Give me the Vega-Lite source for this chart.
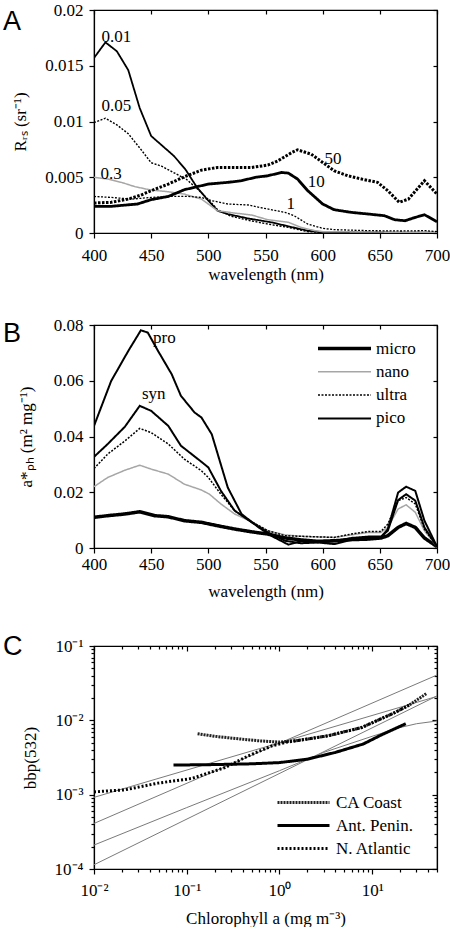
{
  "$schema": "https://vega.github.io/schema/vega-lite/v6.json",
  "padding": {"left": 2, "top": 0, "right": 0, "bottom": 0},
  "background": "white",
  "spacing": 32,
  "resolve": {
    "scale": {"color": "independent", "strokeDash": "independent", "strokeWidth": "independent"},
    "legend": {"color": "independent", "strokeDash": "independent", "strokeWidth": "independent"}
  },
  "datasets": {
    "rrs": [
      {"chl":"0.01","wl":400,"v":0.0157},{"chl":"0.01","wl":410,"v":0.0171},{"chl":"0.01","wl":420,"v":0.0163},{"chl":"0.01","wl":430,"v":0.0146},{"chl":"0.01","wl":440,"v":0.0112},{"chl":"0.01","wl":450,"v":0.0087},{"chl":"0.01","wl":460,"v":0.0078},{"chl":"0.01","wl":470,"v":0.0069},{"chl":"0.01","wl":480,"v":0.0057},{"chl":"0.01","wl":490,"v":0.0041},{"chl":"0.01","wl":500,"v":0.0029},{"chl":"0.01","wl":508,"v":0.0020},{"chl":"0.01","wl":517,"v":0.0017},{"chl":"0.01","wl":535,"v":0.0013},{"chl":"0.01","wl":555,"v":0.00096},{"chl":"0.01","wl":570,"v":0.0006},{"chl":"0.01","wl":587,"v":0.0002},{"chl":"0.01","wl":600,"v":0.00006},{"chl":"0.01","wl":650,"v":0.00003},{"chl":"0.01","wl":700,"v":0.00002},
      {"chl":"0.05","wl":400,"v":0.0099},{"chl":"0.05","wl":410,"v":0.0103},{"chl":"0.05","wl":420,"v":0.0097},{"chl":"0.05","wl":430,"v":0.0089},{"chl":"0.05","wl":441,"v":0.0075},{"chl":"0.05","wl":450,"v":0.0063},{"chl":"0.05","wl":459,"v":0.0060},{"chl":"0.05","wl":470,"v":0.0054},{"chl":"0.05","wl":481,"v":0.0048},{"chl":"0.05","wl":491,"v":0.0039},{"chl":"0.05","wl":500,"v":0.0030},{"chl":"0.05","wl":508,"v":0.0021},{"chl":"0.05","wl":520,"v":0.0015},{"chl":"0.05","wl":537,"v":0.0011},{"chl":"0.05","wl":552,"v":0.0008},{"chl":"0.05","wl":570,"v":0.0005},{"chl":"0.05","wl":587,"v":0.00012},{"chl":"0.05","wl":600,"v":0.00006},{"chl":"0.05","wl":650,"v":0.00004},{"chl":"0.05","wl":700,"v":0.00003},
      {"chl":"0.3","wl":400,"v":0.0050},{"chl":"0.3","wl":412,"v":0.00484},{"chl":"0.3","wl":424,"v":0.00454},{"chl":"0.3","wl":436,"v":0.00415},{"chl":"0.3","wl":450,"v":0.00385},{"chl":"0.3","wl":465,"v":0.0037},{"chl":"0.3","wl":479,"v":0.00349},{"chl":"0.3","wl":494,"v":0.00304},{"chl":"0.3","wl":508,"v":0.0020},{"chl":"0.3","wl":523,"v":0.00179},{"chl":"0.3","wl":538,"v":0.00161},{"chl":"0.3","wl":552,"v":0.00119},{"chl":"0.3","wl":570,"v":0.00096},{"chl":"0.3","wl":581,"v":0.00051},{"chl":"0.3","wl":593,"v":0.00021},{"chl":"0.3","wl":600,"v":0.00012},{"chl":"0.3","wl":650,"v":0.00008},{"chl":"0.3","wl":700,"v":0.00006},
      {"chl":"1","wl":400,"v":0.00328},{"chl":"1","wl":415,"v":0.00319},{"chl":"1","wl":433,"v":0.00304},{"chl":"1","wl":450,"v":0.00319},{"chl":"1","wl":465,"v":0.00328},{"chl":"1","wl":482,"v":0.00328},{"chl":"1","wl":494,"v":0.00319},{"chl":"1","wl":503,"v":0.0029},{"chl":"1","wl":517,"v":0.0026},{"chl":"1","wl":535,"v":0.00251},{"chl":"1","wl":549,"v":0.00221},{"chl":"1","wl":567,"v":0.00185},{"chl":"1","wl":575,"v":0.00155},{"chl":"1","wl":587,"v":0.0008},{"chl":"1","wl":600,"v":0.00042},{"chl":"1","wl":610,"v":0.0003},{"chl":"1","wl":640,"v":0.00021},{"chl":"1","wl":669,"v":0.00018},{"chl":"1","wl":690,"v":0.00021},{"chl":"1","wl":700,"v":0.00012},
      {"chl":"10","wl":400,"v":0.00239},{"chl":"10","wl":415,"v":0.00239},{"chl":"10","wl":438,"v":0.0026},{"chl":"10","wl":450,"v":0.00299},{"chl":"10","wl":465,"v":0.00328},{"chl":"10","wl":479,"v":0.00388},{"chl":"10","wl":500,"v":0.00439},{"chl":"10","wl":517,"v":0.00454},{"chl":"10","wl":529,"v":0.00469},{"chl":"10","wl":541,"v":0.00499},{"chl":"10","wl":552,"v":0.00513},{"chl":"10","wl":564,"v":0.00543},{"chl":"10","wl":570,"v":0.00537},{"chl":"10","wl":578,"v":0.00484},{"chl":"10","wl":587,"v":0.00379},{"chl":"10","wl":600,"v":0.0026},{"chl":"10","wl":610,"v":0.00209},{"chl":"10","wl":625,"v":0.00185},{"chl":"10","wl":640,"v":0.0017},{"chl":"10","wl":654,"v":0.00155},{"chl":"10","wl":663,"v":0.00119},{"chl":"10","wl":672,"v":0.0011},{"chl":"10","wl":681,"v":0.0014},{"chl":"10","wl":689,"v":0.00164},{"chl":"10","wl":700,"v":0.00101},
      {"chl":"50","wl":400,"v":0.00269},{"chl":"50","wl":415,"v":0.00275},{"chl":"50","wl":430,"v":0.00304},{"chl":"50","wl":441,"v":0.0034},{"chl":"50","wl":450,"v":0.00379},{"chl":"50","wl":465,"v":0.00439},{"chl":"50","wl":479,"v":0.00504},{"chl":"50","wl":494,"v":0.00564},{"chl":"50","wl":508,"v":0.00588},{"chl":"50","wl":523,"v":0.00588},{"chl":"50","wl":538,"v":0.00588},{"chl":"50","wl":552,"v":0.00609},{"chl":"50","wl":561,"v":0.00648},{"chl":"50","wl":573,"v":0.00722},{"chl":"50","wl":578,"v":0.00746},{"chl":"50","wl":590,"v":0.00707},{"chl":"50","wl":600,"v":0.00633},{"chl":"50","wl":610,"v":0.00558},{"chl":"50","wl":622,"v":0.00513},{"chl":"50","wl":634,"v":0.00484},{"chl":"50","wl":648,"v":0.00454},{"chl":"50","wl":657,"v":0.00379},{"chl":"50","wl":667,"v":0.00275},{"chl":"50","wl":675,"v":0.00304},{"chl":"50","wl":689,"v":0.00469},{"chl":"50","wl":700,"v":0.00349}
    ],
    "rrsLabels": [
      {"label":"0.01","wl":419.5,"v":0.0176},{"label":"0.05","wl":419.5,"v":0.0114},{"label":"0.3","wl":415,"v":0.00526},{"label":"1","wl":572,"v":0.0026},{"label":"10","wl":594.4,"v":0.00454},{"label":"50","wl":609,"v":0.00662}
    ],
    "aph": [
      {"cls":"micro","id":"micro","wl":400,"v":0.011},{"cls":"micro","id":"micro","wl":412,"v":0.0116},{"cls":"micro","id":"micro","wl":427,"v":0.0122},{"cls":"micro","id":"micro","wl":440,"v":0.0130},{"cls":"micro","id":"micro","wl":453,"v":0.0116},{"cls":"micro","id":"micro","wl":465,"v":0.0112},{"cls":"micro","id":"micro","wl":479,"v":0.0098},{"cls":"micro","id":"micro","wl":494,"v":0.0092},{"cls":"micro","id":"micro","wl":508,"v":0.0080},{"cls":"micro","id":"micro","wl":523,"v":0.0068},{"cls":"micro","id":"micro","wl":538,"v":0.0058},{"cls":"micro","id":"micro","wl":552,"v":0.0050},{"cls":"micro","id":"micro","wl":567,"v":0.0036},{"cls":"micro","id":"micro","wl":581,"v":0.0029},{"cls":"micro","id":"micro","wl":596,"v":0.0024},{"cls":"micro","id":"micro","wl":610,"v":0.0026},{"cls":"micro","id":"micro","wl":625,"v":0.0030},{"cls":"micro","id":"micro","wl":640,"v":0.0032},{"cls":"micro","id":"micro","wl":651,"v":0.0036},{"cls":"micro","id":"micro","wl":657,"v":0.0044},{"cls":"micro","id":"micro","wl":666,"v":0.0074},{"cls":"micro","id":"micro","wl":673,"v":0.0088},{"cls":"micro","id":"micro","wl":681,"v":0.0074},{"cls":"micro","id":"micro","wl":689,"v":0.0036},{"cls":"micro","id":"micro","wl":700,"v":0.0005},
      {"cls":"nano","id":"nano","wl":400,"v":0.022},{"cls":"nano","id":"nano","wl":412,"v":0.0253},{"cls":"nano","id":"nano","wl":427,"v":0.0279},{"cls":"nano","id":"nano","wl":440,"v":0.0297},{"cls":"nano","id":"nano","wl":450,"v":0.0283},{"cls":"nano","id":"nano","wl":465,"v":0.0265},{"cls":"nano","id":"nano","wl":479,"v":0.0229},{"cls":"nano","id":"nano","wl":494,"v":0.0208},{"cls":"nano","id":"nano","wl":501,"v":0.0193},{"cls":"nano","id":"nano","wl":511,"v":0.0158},{"cls":"nano","id":"nano","wl":523,"v":0.0122},{"cls":"nano","id":"nano","wl":538,"v":0.0094},{"cls":"nano","id":"nano","wl":552,"v":0.0062},{"cls":"nano","id":"nano","wl":567,"v":0.0047},{"cls":"nano","id":"nano","wl":581,"v":0.0042},{"cls":"nano","id":"nano","wl":610,"v":0.0038},{"cls":"nano","id":"nano","wl":625,"v":0.0047},{"cls":"nano","id":"nano","wl":640,"v":0.0056},{"cls":"nano","id":"nano","wl":651,"v":0.0056},{"cls":"nano","id":"nano","wl":657,"v":0.0074},{"cls":"nano","id":"nano","wl":666,"v":0.0140},{"cls":"nano","id":"nano","wl":673,"v":0.0155},{"cls":"nano","id":"nano","wl":681,"v":0.0128},{"cls":"nano","id":"nano","wl":689,"v":0.0062},{"cls":"nano","id":"nano","wl":700,"v":0.0005},
      {"cls":"ultra","id":"ultra","wl":400,"v":0.0285},{"cls":"ultra","id":"ultra","wl":412,"v":0.0337},{"cls":"ultra","id":"ultra","wl":427,"v":0.0384},{"cls":"ultra","id":"ultra","wl":440,"v":0.0429},{"cls":"ultra","id":"ultra","wl":450,"v":0.0414},{"cls":"ultra","id":"ultra","wl":465,"v":0.0373},{"cls":"ultra","id":"ultra","wl":479,"v":0.0319},{"cls":"ultra","id":"ultra","wl":494,"v":0.0277},{"cls":"ultra","id":"ultra","wl":500,"v":0.0253},{"cls":"ultra","id":"ultra","wl":511,"v":0.0193},{"cls":"ultra","id":"ultra","wl":523,"v":0.0134},{"cls":"ultra","id":"ultra","wl":538,"v":0.0094},{"cls":"ultra","id":"ultra","wl":552,"v":0.0062},{"cls":"ultra","id":"ultra","wl":567,"v":0.0044},{"cls":"ultra","id":"ultra","wl":581,"v":0.0042},{"cls":"ultra","id":"ultra","wl":610,"v":0.0038},{"cls":"ultra","id":"ultra","wl":625,"v":0.0050},{"cls":"ultra","id":"ultra","wl":640,"v":0.0059},{"cls":"ultra","id":"ultra","wl":651,"v":0.0059},{"cls":"ultra","id":"ultra","wl":657,"v":0.0086},{"cls":"ultra","id":"ultra","wl":666,"v":0.0170},{"cls":"ultra","id":"ultra","wl":673,"v":0.0181},{"cls":"ultra","id":"ultra","wl":681,"v":0.0158},{"cls":"ultra","id":"ultra","wl":689,"v":0.0068},{"cls":"ultra","id":"ultra","wl":700,"v":0.0005},
      {"cls":"pico","id":"syn","wl":400,"v":0.0327},{"cls":"pico","id":"syn","wl":412,"v":0.0373},{"cls":"pico","id":"syn","wl":427,"v":0.0435},{"cls":"pico","id":"syn","wl":440,"v":0.0510},{"cls":"pico","id":"syn","wl":450,"v":0.0492},{"cls":"pico","id":"syn","wl":465,"v":0.0438},{"cls":"pico","id":"syn","wl":476,"v":0.0367},{"cls":"pico","id":"syn","wl":494,"v":0.0309},{"cls":"pico","id":"syn","wl":500,"v":0.0289},{"cls":"pico","id":"syn","wl":511,"v":0.0205},{"cls":"pico","id":"syn","wl":523,"v":0.0134},{"cls":"pico","id":"syn","wl":538,"v":0.0092},{"cls":"pico","id":"syn","wl":552,"v":0.0056},{"cls":"pico","id":"syn","wl":567,"v":0.0026},{"cls":"pico","id":"syn","wl":581,"v":0.0017},{"cls":"pico","id":"syn","wl":596,"v":0.0020},{"cls":"pico","id":"syn","wl":610,"v":0.0024},{"cls":"pico","id":"syn","wl":625,"v":0.0036},{"cls":"pico","id":"syn","wl":640,"v":0.0041},{"cls":"pico","id":"syn","wl":651,"v":0.0041},{"cls":"pico","id":"syn","wl":657,"v":0.0062},{"cls":"pico","id":"syn","wl":666,"v":0.0172},{"cls":"pico","id":"syn","wl":673,"v":0.0193},{"cls":"pico","id":"syn","wl":681,"v":0.0170},{"cls":"pico","id":"syn","wl":689,"v":0.0074},{"cls":"pico","id":"syn","wl":700,"v":0.0005},
      {"cls":"pico","id":"pro","wl":400,"v":0.0438},{"cls":"pico","id":"pro","wl":415,"v":0.0599},{"cls":"pico","id":"pro","wl":430,"v":0.0707},{"cls":"pico","id":"pro","wl":441,"v":0.0781},{"cls":"pico","id":"pro","wl":447,"v":0.0773},{"cls":"pico","id":"pro","wl":456,"v":0.0707},{"cls":"pico","id":"pro","wl":468,"v":0.0623},{"cls":"pico","id":"pro","wl":476,"v":0.0546},{"cls":"pico","id":"pro","wl":488,"v":0.0486},{"cls":"pico","id":"pro","wl":494,"v":0.0468},{"cls":"pico","id":"pro","wl":503,"v":0.0408},{"cls":"pico","id":"pro","wl":517,"v":0.0217},{"cls":"pico","id":"pro","wl":529,"v":0.0122},{"cls":"pico","id":"pro","wl":544,"v":0.0074},{"cls":"pico","id":"pro","wl":555,"v":0.0044},{"cls":"pico","id":"pro","wl":570,"v":0.0012},{"cls":"pico","id":"pro","wl":581,"v":0.0024},{"cls":"pico","id":"pro","wl":596,"v":0.0020},{"cls":"pico","id":"pro","wl":610,"v":0.0014},{"cls":"pico","id":"pro","wl":625,"v":0.0029},{"cls":"pico","id":"pro","wl":640,"v":0.0038},{"cls":"pico","id":"pro","wl":651,"v":0.0038},{"cls":"pico","id":"pro","wl":657,"v":0.0068},{"cls":"pico","id":"pro","wl":666,"v":0.0199},{"cls":"pico","id":"pro","wl":673,"v":0.0220},{"cls":"pico","id":"pro","wl":681,"v":0.0205},{"cls":"pico","id":"pro","wl":689,"v":0.0098},{"cls":"pico","id":"pro","wl":700,"v":0.0005}
    ],
    "aphLabels": [
      {"label":"pro","wl":461.5,"v":0.0755},{"label":"syn","wl":452.3,"v":0.0554}
    ],
    "grayLines": [
      {"id":"g1","chl":0.01,"b":0.00092},{"id":"g1","chl":50,"b":0.021},
      {"id":"g2","chl":0.01,"b":0.00041},{"id":"g2","chl":50,"b":0.0407},
      {"id":"g3","chl":0.01,"b":0.00021},{"id":"g3","chl":0.1,"b":0.00067},{"id":"g3","chl":1,"b":0.0021},{"id":"g3","chl":3,"b":0.0037},{"id":"g3","chl":10,"b":0.0061},{"id":"g3","chl":20,"b":0.0080},{"id":"g3","chl":30,"b":0.0090},{"id":"g3","chl":50,"b":0.0098},
      {"id":"g4","chl":0.01,"b":0.000114},{"id":"g4","chl":50,"b":0.0213}
    ],
    "regions": [
      {"region":"CA Coast","chl":0.131,"b":0.0066},{"region":"CA Coast","chl":0.2,"b":0.0061},{"region":"CA Coast","chl":0.333,"b":0.0057},{"region":"CA Coast","chl":0.6,"b":0.0053},{"region":"CA Coast","chl":1.0,"b":0.0051},{"region":"CA Coast","chl":1.5,"b":0.0053},{"region":"CA Coast","chl":3.35,"b":0.0062},{"region":"CA Coast","chl":7.7,"b":0.0080},{"region":"CA Coast","chl":17.5,"b":0.0127},{"region":"CA Coast","chl":25,"b":0.0160},{"region":"CA Coast","chl":38.5,"b":0.0229},
      {"region":"Ant. Penin.","chl":0.072,"b":0.0025},{"region":"Ant. Penin.","chl":0.2,"b":0.00254},{"region":"Ant. Penin.","chl":0.5,"b":0.0026},{"region":"Ant. Penin.","chl":1,"b":0.0027},{"region":"Ant. Penin.","chl":2,"b":0.0030},{"region":"Ant. Penin.","chl":4,"b":0.0037},{"region":"Ant. Penin.","chl":8,"b":0.0048},{"region":"Ant. Penin.","chl":13,"b":0.0065},{"region":"Ant. Penin.","chl":23,"b":0.0090},
      {"region":"N. Atlantic","chl":0.01,"b":0.00109},{"region":"N. Atlantic","chl":0.0215,"b":0.00116},{"region":"N. Atlantic","chl":0.049,"b":0.00143},{"region":"N. Atlantic","chl":0.113,"b":0.00165},{"region":"N. Atlantic","chl":0.259,"b":0.00232},{"region":"N. Atlantic","chl":0.463,"b":0.00333},{"region":"N. Atlantic","chl":0.828,"b":0.00453},{"region":"N. Atlantic","chl":1.2,"b":0.0051},{"region":"N. Atlantic","chl":1.5,"b":0.0053},{"region":"N. Atlantic","chl":3.35,"b":0.0062},{"region":"N. Atlantic","chl":7.7,"b":0.0080},{"region":"N. Atlantic","chl":17.5,"b":0.0127},{"region":"N. Atlantic","chl":25,"b":0.0160}
    ]
  },
  "config": {
    "font": "Liberation Serif",
    "view": {"stroke": "black", "strokeWidth": 1.2},
    "axis": {
      "labelFont": "Liberation Serif", "labelFontSize": 17, "labelColor": "black",
      "titleFont": "Liberation Serif", "titleFontSize": 17, "titleFontWeight": "normal", "titleColor": "black",
      "domainColor": "black", "domainWidth": 1.2, "tickColor": "black", "tickWidth": 1.2, "grid": false,
      "labelFlush": false, "labelOverlap": false, "tickSize": 5, "labelPadding": 6
    },
    "text": {"font": "Liberation Serif", "fontSize": 17, "color": "black"},
    "legend": {"labelFont": "Liberation Serif", "labelFontSize": 17, "labelColor": "black", "padding": 0, "symbolOffset": 0},
    "title": {"font": "Liberation Sans", "fontSize": 27, "fontWeight": "normal", "color": "black", "anchor": "start", "frame": "group"}
  },
  "vconcat": [
    {
      "width": 343, "height": 223,
      "title": {"text": "A", "dx": -91, "dy": 39},
      "layer": [
        {
          "data": {"name": "rrs"},
          "mark": {"type": "line", "clip": true},
          "encoding": {
            "x": {"field": "wl", "type": "quantitative", "scale": {"domain": [400, 700], "nice": false, "zero": false},
                  "axis": {"values": [400,450,500,550,600,650,700], "title": "wavelength (nm)", "labelPadding": 9, "titlePadding": 3}},
            "y": {"field": "v", "type": "quantitative", "scale": {"domain": [0, 0.02], "nice": false},
                  "axis": {"values": [0,0.005,0.01,0.015,0.02], "format": "~g", "title": "Rᵣₛ (sr⁻¹)", "titlePadding": 15}},
            "color": {"field": "chl", "type": "nominal", "scale": {"domain": ["0.01","0.05","0.3","1","10","50"], "range": ["black","black","#a6a6a6","black","black","black"]}, "legend": null},
            "strokeDash": {"field": "chl", "type": "nominal", "scale": {"domain": ["0.01","0.05","0.3","1","10","50"], "range": [[1,0],[2,1.5],[1,0],[2,1.5],[1,0],[2.5,1.5]]}, "legend": null},
            "strokeWidth": {"field": "chl", "type": "nominal", "scale": {"type": "ordinal", "domain": ["0.01","0.05","0.3","1","10","50"], "range": [1.8,1.4,1.5,1.3,2.8,3]}, "legend": null}
          }
        },
        {
          "data": {"name": "rrsLabels"},
          "mark": {"type": "text", "align": "center", "baseline": "middle", "font": "Liberation Serif", "fontSize": 17},
          "encoding": {
            "x": {"field": "wl", "type": "quantitative", "axis": {"orient": "top", "labels": false, "title": null, "tickSize": -4, "values": [400,450,500,550,600,650,700]}},
            "y": {"field": "v", "type": "quantitative", "axis": {"orient": "right", "labels": false, "title": null, "tickSize": -4, "values": [0,0.005,0.01,0.015,0.02]}},
            "text": {"field": "label"}
          }
        }
      ],
      "resolve": {"axis": {"x": "independent", "y": "independent"}}
    },
    {
      "width": 343, "height": 223,
      "title": {"text": "B", "dx": -91, "dy": 36},
      "layer": [
        {
          "data": {"name": "aph"},
          "mark": {"type": "line", "clip": true},
          "encoding": {
            "x": {"field": "wl", "type": "quantitative", "scale": {"domain": [400, 700], "nice": false, "zero": false},
                  "axis": {"values": [400,450,500,550,600,650,700], "title": "wavelength (nm)", "labelPadding": 3, "titlePadding": 11}},
            "y": {"field": "v", "type": "quantitative", "scale": {"domain": [0, 0.08], "nice": false},
                  "axis": {"values": [0,0.02,0.04,0.06,0.08], "format": "~g", "title": "a*ₚₕ (m² mg⁻¹)", "titlePadding": 18}},
            "detail": {"field": "id"},
            "color": {"field": "cls", "type": "nominal", "scale": {"domain": ["micro","nano","ultra","pico"], "range": ["black","#a6a6a6","black","black"]},
                      "legend": {"title": null, "orient": "none", "legendX": 242, "legendY": 15, "symbolType": "M-4,0H4", "symbolSize": 175.6, "labelOffset": 23, "rowPadding": 5.3, "padding": 0, "labelFont": "Liberation Serif", "labelFontSize": 17}},
            "strokeDash": {"field": "cls", "type": "nominal", "scale": {"domain": ["micro","nano","ultra","pico"], "range": [[1,0],[1,0],[2,1.5],[1,0]]}},
            "strokeWidth": {"field": "cls", "type": "nominal", "scale": {"type": "ordinal", "domain": ["micro","nano","ultra","pico"], "range": [3.5,1.5,1.5,2]}}
          }
        },
        {
          "data": {"name": "aphLabels"},
          "mark": {"type": "text", "align": "center", "baseline": "middle", "font": "Liberation Serif", "fontSize": 17},
          "encoding": {
            "x": {"field": "wl", "type": "quantitative", "axis": {"orient": "top", "labels": false, "title": null, "tickSize": -4, "values": [400,450,500,550,600,650,700]}},
            "y": {"field": "v", "type": "quantitative", "axis": {"orient": "right", "labels": false, "title": null, "tickSize": -4, "values": [0,0.02,0.04,0.06,0.08]}},
            "text": {"field": "label"}
          }
        }
      ],
      "resolve": {"axis": {"x": "independent", "y": "independent"}}
    },
    {
      "width": 343, "height": 223,
      "title": {"text": "C", "dx": -91, "dy": 28},
      "layer": [
        {
          "data": {"name": "grayLines"},
          "mark": {"type": "line", "color": "#7a7a7a", "strokeWidth": 1},
          "encoding": {
            "x": {"field": "chl", "type": "quantitative", "scale": {"type": "log", "domain": [0.01, 50], "nice": false},
                  "axis": {"orient": "top", "labels": false, "title": null,
                           "values": [0.01,0.02,0.03,0.04,0.05,0.06,0.07,0.08,0.09,0.1,0.2,0.3,0.4,0.5,0.6,0.7,0.8,0.9,1,2,3,4,5,6,7,8,9,10,20,30,40,50],
                           "tickSize": {"condition": {"test": "indexof([0.01,0.1,1,10], datum.value) >= 0", "value": -5}, "value": -3}}},
            "y": {"field": "b", "type": "quantitative", "scale": {"type": "log", "domain": [0.0001, 0.1], "nice": false},
                  "axis": {"orient": "right", "labels": false, "title": null,
                           "values": [0.0001,0.0002,0.0003,0.0004,0.0005,0.0006,0.0007,0.0008,0.0009,0.001,0.002,0.003,0.004,0.005,0.006,0.007,0.008,0.009,0.01,0.02,0.03,0.04,0.05,0.06,0.07,0.08,0.09,0.1],
                           "tickSize": {"condition": {"test": "indexof([0.0001,0.001,0.01,0.1], datum.value) >= 0", "value": -5}, "value": -3}}},
            "detail": {"field": "id"}
          }
        },
        {
          "data": {"name": "regions"},
          "mark": {"type": "line"},
          "encoding": {
            "x": {"field": "chl", "type": "quantitative", "scale": {"type": "log", "domain": [0.01, 50], "nice": false},
                  "axis": {"title": "Chlorophyll a (mg m⁻³)", "labelPadding": 8, "titlePadding": 12,
                           "values": [0.01,0.02,0.03,0.04,0.05,0.06,0.07,0.08,0.09,0.1,0.2,0.3,0.4,0.5,0.6,0.7,0.8,0.9,1,2,3,4,5,6,7,8,9,10,20,30,40,50],
                           "labelExpr": "datum.value == 0.01 ? '10⁻²' : datum.value == 0.1 ? '10⁻¹' : datum.value == 1 ? '10⁰' : datum.value == 10 ? '10¹' : ''",
                           "tickSize": {"condition": {"test": "indexof([0.01,0.1,1,10], datum.value) >= 0", "value": 5}, "value": 3}}},
            "y": {"field": "b", "type": "quantitative", "scale": {"type": "log", "domain": [0.0001, 0.1], "nice": false},
                  "axis": {"title": "bbp(532)", "titlePadding": 15,
                           "values": [0.0001,0.0002,0.0003,0.0004,0.0005,0.0006,0.0007,0.0008,0.0009,0.001,0.002,0.003,0.004,0.005,0.006,0.007,0.008,0.009,0.01,0.02,0.03,0.04,0.05,0.06,0.07,0.08,0.09,0.1],
                           "labelExpr": "datum.value == 0.0001 ? '10⁻⁴' : datum.value == 0.001 ? '10⁻³' : datum.value == 0.01 ? '10⁻²' : datum.value == 0.1 ? '10⁻¹' : ''",
                           "tickSize": {"condition": {"test": "indexof([0.0001,0.001,0.01,0.1], datum.value) >= 0", "value": 5}, "value": 3}}},
            "color": {"field": "region", "type": "nominal", "scale": {"domain": ["CA Coast","Ant. Penin.","N. Atlantic"], "range": ["#222222","black","black"]},
                      "legend": {"title": null, "orient": "none", "legendX": 201, "legendY": 148, "symbolType": "M-4,0H4", "symbolSize": 169, "labelOffset": 24, "rowPadding": 5, "padding": 0, "labelFont": "Liberation Serif", "labelFontSize": 17}},
            "strokeDash": {"field": "region", "type": "nominal", "scale": {"domain": ["CA Coast","Ant. Penin.","N. Atlantic"], "range": [[2,1],[1,0],[2,2]]}},
            "strokeWidth": {"field": "region", "type": "nominal", "scale": {"type": "ordinal", "domain": ["CA Coast","Ant. Penin.","N. Atlantic"], "range": [3,3,3]}}
          }
        }
      ],
      "resolve": {"axis": {"x": "independent", "y": "independent"}}
    }
  ]
}
